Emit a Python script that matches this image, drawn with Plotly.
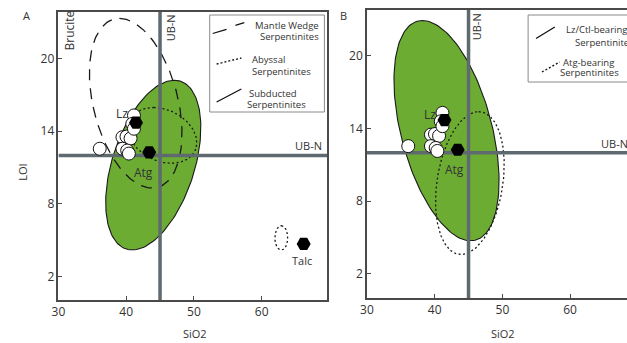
import numpy as np
import plotly.graph_objects as go

# ---------------- data ----------------
# open circles (samples) SiO2 / LOI
sample_sio2 = [36.1, 39.45, 40.05, 40.65, 39.45, 40.15, 40.4, 41.15, 40.9, 41.15]
sample_loi = [12.55, 13.5, 13.55, 13.4, 12.55, 12.4, 12.15, 15.3, 14.6, 14.2]

# reference minerals (black hexagons)
mineral_names = ["Lz", "Atg", "Talc"]
mineral_sio2 = [41.45, 43.4, 66.2]
mineral_loi = [14.7, 12.25, 4.7]

# UB-N reference values
ubn_sio2 = 45
ubn_loi = 12

x_ticks = [30, 40, 50, 60]
y_ticks = [2, 8, 14, 20]

# fields: centre (SiO2, LOI), conjugate semi-diameters U (to top point) and V (horizontal)
field_subducted = dict(c=(44.0, 11.2), u=(3.1, 7.0), v=(6.3, 0))
field_mantle = dict(c=(41.4, 16.3), u=(-2.4, 7.0), v=(6.4, 0))
field_abyssal = dict(c=(45.35, 13.65), u=(-1.3, 2.3), v=(4.9, 0))
field_abyssal_talc = dict(c=(62.9, 5.2), u=(0, 1.0), v=(0.95, 0))
field_lzctl = dict(c=(41.75, 13.83), u=(-3.55, 9.1), v=(6.9, 0))
field_atg = dict(c=(45.2, 9.5), u=(1.3, 5.9), v=(4.9, 0))

GREEN = "#6dac33"
UBN_COL = "#5f6a70"
FRAME = "#4a4a4a"
TXT = "#333333"
FONT = "Open Sans"
W, H = 627, 343


def ellipse(f, n=160):
    t = np.linspace(0, 2 * np.pi, n)
    cx, cy = f["c"]
    ux, uy = f["u"]
    vx, vy = f["v"]
    return cx + ux * np.cos(t) + vx * np.sin(t), cy + uy * np.cos(t) + vy * np.sin(t)


def px(x):
    return x / W


def py(y):
    return 1 - y / H


fig = go.Figure()


def add_field(f, xa, ya, fill=False, dash="solid"):
    ex, ey = ellipse(f)
    if fill:
        fig.add_trace(go.Scatter(x=ex, y=ey, mode="lines", fill="toself", fillcolor=GREEN,
                                 line=dict(color="#1a1a1a", width=1.1), xaxis=xa, yaxis=ya,
                                 hoverinfo="skip", showlegend=False))
    else:
        fig.add_trace(go.Scatter(x=ex, y=ey, mode="lines",
                                 line=dict(color="#1a1a1a", width=1.3, dash=dash), xaxis=xa, yaxis=ya,
                                 hoverinfo="skip", showlegend=False))


def add_ubn(xa, ya, xr, yr):
    fig.add_trace(go.Scatter(x=[ubn_sio2, ubn_sio2], y=list(yr), mode="lines",
                             line=dict(color=UBN_COL, width=3.5), xaxis=xa, yaxis=ya,
                             hoverinfo="skip", showlegend=False))
    fig.add_trace(go.Scatter(x=list(xr), y=[ubn_loi, ubn_loi], mode="lines",
                             line=dict(color=UBN_COL, width=3.5), xaxis=xa, yaxis=ya,
                             hoverinfo="skip", showlegend=False))


def add_points(xa, ya, with_talc):
    fig.add_trace(go.Scatter(x=sample_sio2, y=sample_loi, mode="markers",
                             marker=dict(symbol="circle", size=13, color="white",
                                         line=dict(color="#111111", width=1)),
                             xaxis=xa, yaxis=ya, showlegend=False))
    k = 3 if with_talc else 2
    fig.add_trace(go.Scatter(x=mineral_sio2[:k], y=mineral_loi[:k], mode="markers",
                             marker=dict(symbol="hexagon2", size=14, color="black",
                                         line=dict(color="black", width=0)),
                             xaxis=xa, yaxis=ya, showlegend=False))


xrA = (30, 69.7)
yrA = (0.07, 23.83)
xrB = (30, 68.4)
yrB = (0.0, 23.8)

# Panel A
add_field(field_subducted, "x", "y", fill=True)
add_field(field_mantle, "x", "y", dash="11px,8px")
add_field(field_abyssal, "x", "y", dash="2px,2.5px")
add_field(field_abyssal_talc, "x", "y", dash="2px,2.5px")
add_ubn("x", "y", xrA, yrA)
add_points("x", "y", True)

# Panel B
add_field(field_lzctl, "x2", "y2", fill=True)
add_field(field_atg, "x2", "y2", dash="2px,2.5px")
add_ubn("x2", "y2", xrB, yrB)
add_points("x2", "y2", False)

axis_common = dict(showgrid=False, zeroline=False, showline=True, linecolor=FRAME, linewidth=1.5,
                   ticks="inside", ticklen=4, tickwidth=1, tickcolor=FRAME,
                   tickfont=dict(family=FONT, size=12, color=TXT))

fig.update_layout(
    width=W, height=H, margin=dict(l=0, r=0, t=0, b=0),
    paper_bgcolor="white", plot_bgcolor="white", showlegend=False,
    xaxis=dict(axis_common, domain=[px(52), px(324)], range=xrA, tickvals=x_ticks, mirror=True,
               anchor="y"),
    yaxis=dict(axis_common, domain=[py(300), py(12)], range=yrA, tickvals=y_ticks, mirror=True,
               anchor="x"),
    xaxis2=dict(axis_common, domain=[px(364), 1.0], range=xrB, tickvals=x_ticks, mirror=True,
                anchor="y2"),
    yaxis2=dict(axis_common, domain=[py(298), py(10)], range=yrB, tickvals=y_ticks, mirror=False,
                anchor="x2"),
)

ann = []


def T(text, x, y, xref, yref, size=12, xanchor="center", yanchor="middle", angle=0):
    ann.append(dict(text=text, x=x, y=y, xref=xref, yref=yref, showarrow=False,
                    font=dict(family=FONT, size=size, color=TXT), xanchor=xanchor,
                    yanchor=yanchor, textangle=angle))


# panel letters and axis titles
T("A", px(20), py(15), "paper", "paper", size=11)
T("B", px(340), py(15), "paper", "paper", size=11)
T("SiO2", px(190), py(333), "paper", "paper", size=11)
T("SiO2", px(502), py(333), "paper", "paper", size=11)
T("LOI", px(15), py(172), "paper", "paper", size=11, angle=-90)

# panel A labels
T("Brucite", 31.7, 22.3, "x", "y", size=12, angle=-90)
T("UB-N", 46.5, 22.5, "x", "y", size=11, angle=-90)
T("UB-N", 69.2, 12.8, "x", "y", size=11, xanchor="right")
T(mineral_names[0], 39.35, 15.45, "x", "y", size=12)
T(mineral_names[1], 42.5, 10.6, "x", "y", size=12)
T(mineral_names[2], 66.0, 3.3, "x", "y", size=11)

# panel B labels
T("UB-N", 46.3, 22.4, "x2", "y2", size=11, angle=-90)
T("UB-N", 64.2, 12.8, "x2", "y2", size=11, xanchor="left")
T(mineral_names[0], 39.3, 15.2, "x2", "y2", size=12)
T(mineral_names[1], 43.0, 10.6, "x2", "y2", size=12)

# legends
LS = 9.5
T("Mantle Wedge", px(318), py(25), "paper", "paper", size=LS, xanchor="right")
T("Serpentinites", px(318), py(37), "paper", "paper", size=LS, xanchor="right")
T("Abyssal", px(246), py(59), "paper", "paper", size=LS, xanchor="left")
T("Serpentinites", px(246), py(71), "paper", "paper", size=LS, xanchor="left")
T("Subducted", px(243), py(93), "paper", "paper", size=LS, xanchor="left")
T("Serpentinites", px(241), py(104), "paper", "paper", size=LS, xanchor="left")
T("Lz/Ctl-bearing", px(563), py(30), "paper", "paper", size=LS, xanchor="left")
T("Serpentinites", px(572), py(42), "paper", "paper", size=LS, xanchor="left")
T("Atg-bearing", px(560), py(62), "paper", "paper", size=LS, xanchor="left")
T("Serpentinites", px(557), py(73), "paper", "paper", size=LS, xanchor="left")

shapes = []


def box(x0, y0, x1, y1):
    shapes.append(dict(type="rect", xref="paper", yref="paper", x0=px(x0), x1=px(x1),
                       y0=py(y1), y1=py(y0), line=dict(color="#8a8a8a", width=1),
                       fillcolor="white", layer="above"))


def seg(x0, y0, x1, y1, dash="solid"):
    shapes.append(dict(type="line", xref="paper", yref="paper", x0=px(x0), x1=px(x1),
                       y0=py(y0), y1=py(y1), line=dict(color="#111111", width=1.3, dash=dash),
                       layer="above"))


box(205, 15, 321, 112)
box(527, 15, 640, 82)
seg(208, 33.5, 222, 29.3)
seg(231, 25.3, 240, 22.7)
seg(212, 64, 237, 58, dash="2px,2px")
seg(212, 102, 237, 89)
seg(535, 38.5, 554, 27)
seg(541, 72, 559, 62, dash="2px,2px")

fig.update_layout(annotations=ann, shapes=shapes)
fig.write_html("out.html", config={"displayModeBar": False},
               post_script="document.body.style.margin='0';document.body.style.overflow='hidden';")
